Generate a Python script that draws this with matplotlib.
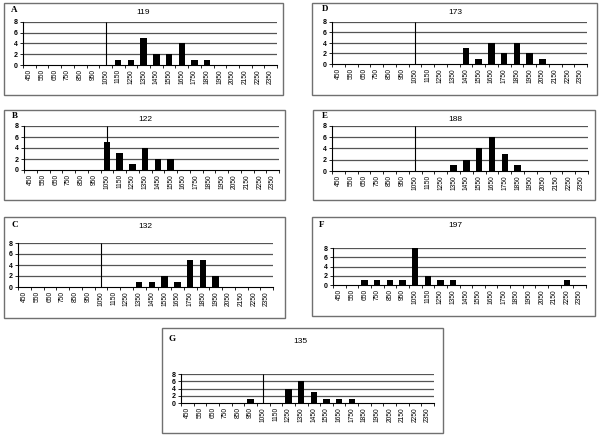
import numpy as np
import matplotlib
matplotlib.use('Agg')
import matplotlib.pyplot as plt
from matplotlib.patches import Rectangle

# categories on the x axis
categories = list(range(450, 2351, 100))
marker_cat = 1050

# counts per panel
counts_A = [0, 0, 0, 0, 0, 0, 0, 1, 1, 5, 2, 2, 4, 1, 1, 0, 0, 0, 0, 0]
counts_B = [0, 0, 0, 0, 0, 0, 5, 3, 1, 4, 2, 2, 0, 0, 0, 0, 0, 0, 0, 0]
counts_C = [0, 0, 0, 0, 0, 0, 0, 0, 0, 1, 1, 2, 1, 5, 5, 2, 0, 0, 0, 0]
counts_D = [0, 0, 0, 0, 0, 0, 0, 0, 0, 0, 3, 1, 4, 2, 4, 2, 1, 0, 0, 0]
counts_E = [0, 0, 0, 0, 0, 0, 0, 0, 0, 1, 2, 4, 6, 3, 1, 0, 0, 0, 0, 0]
counts_F = [0, 0, 1, 1, 1, 1, 8, 2, 1, 1, 0, 0, 0, 0, 0, 0, 0, 0, 1, 0]
counts_G = [0, 0, 0, 0, 0, 1, 0, 0, 4, 6, 3, 1, 1, 1, 0, 0, 0, 0, 0, 0]

letters = ['A', 'B', 'C', 'D', 'E', 'F', 'G']
titles = ['119', '122', '132', '173', '188', '197', '135']
all_counts = [counts_A, counts_B, counts_C, counts_D, counts_E, counts_F, counts_G]

W, H = 600, 440
# layout in pixels: box (x0, y0, x1, y1), plot (x0, ytop, x1, ybottom), title xy, letter xy
layout = {
    'A': ((4, 3, 283, 95), (23, 22, 277, 65), (143, 13), (14, 10)),
    'B': ((4, 110, 285, 200), (24, 126, 279, 170), (145, 119), (15, 116)),
    'C': ((4, 217, 285, 318), (18, 243, 273, 287), (145, 226), (15, 225)),
    'D': ((312, 3, 597, 95), (332, 22, 587, 64), (455, 13), (325, 9)),
    'E': ((313, 110, 595, 200), (332, 126, 588, 171), (455, 119), (325, 116)),
    'F': ((312, 217, 595, 316), (333, 248, 586, 285), (455, 225), (322, 225)),
    'G': ((162, 328, 443, 433), (181, 374, 434, 403), (300, 341), (172, 339)),
}

fig = plt.figure(figsize=(6, 4.4), dpi=100)
fig.patch.set_facecolor('white')

x = np.arange(len(categories))
mpos = categories.index(marker_cat)

for letter, title, counts in zip(letters, titles, all_counts):
    box, plot, tpos, lpos = layout[letter]
    # outer frame
    fig.patches.append(Rectangle((box[0] / W, 1 - box[3] / H), (box[2] - box[0]) / W,
                                 (box[3] - box[1]) / H, transform=fig.transFigure,
                                 fill=False, edgecolor='#707070', linewidth=1.0))
    fig.text(tpos[0] / W, 1 - tpos[1] / H, title, ha='center', va='center',
             fontsize=6, family='Liberation Sans')
    fig.text(lpos[0] / W, 1 - lpos[1] / H, letter, ha='center', va='center',
             fontsize=6.5, fontweight='bold', family='Liberation Serif')

    ax = fig.add_axes([plot[0] / W, 1 - plot[3] / H, (plot[2] - plot[0]) / W,
                       (plot[3] - plot[1]) / H])
    for yv in [2, 4, 6, 8]:
        ax.axhline(yv, color='#555555', linewidth=0.9, zorder=1)
    ax.vlines(mpos, 0, 8, color='black', linewidth=0.8, zorder=1)
    ax.bar(x, counts, width=0.5, color='black', zorder=2)

    ax.set_xlim(-0.5, len(categories) - 0.5)
    ax.set_ylim(0, 8)
    ax.set_yticks([0, 2, 4, 6, 8])
    ax.set_xticks(x)
    ax.set_xticklabels([str(c) for c in categories], rotation=90,
                       fontsize=4.8, family='Liberation Sans')
    ax.set_xticks(np.arange(-0.5, len(categories)), minor=True)
    ax.tick_params(axis='x', which='major', length=0, pad=3)
    ax.tick_params(axis='x', which='minor', length=2, width=0.6, direction='out')
    ax.tick_params(axis='y', length=2, width=0.6, pad=2, labelsize=5)
    for lab in ax.get_yticklabels():
        lab.set_fontweight('bold')
        lab.set_family('Liberation Sans')
    for s in ['top', 'right']:
        ax.spines[s].set_visible(False)
    ax.spines['left'].set_linewidth(0.8)
    ax.spines['bottom'].set_linewidth(0.8)
    ax.patch.set_alpha(0)

fig.savefig('out.png', dpi=100)
